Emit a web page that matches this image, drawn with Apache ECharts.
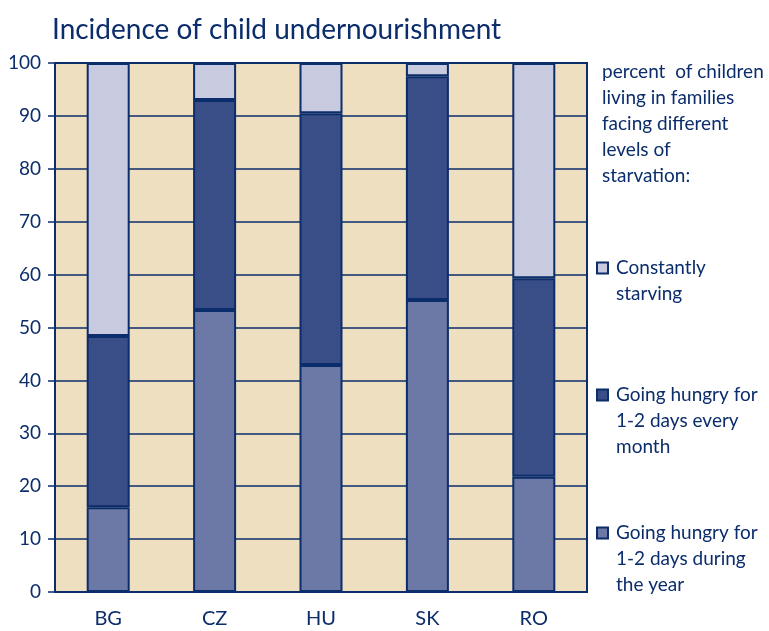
<!DOCTYPE html>
<html>
<head>
<meta charset="utf-8">
<script src="https://cdn.jsdelivr.net/npm/echarts@6/dist/echarts.min.js"></script>
<style>
  body { margin: 0; background: #fff; }
  #chart { width: 769px; height: 631px; }
</style>
</head>
<body>
<div id="chart"></div>
<script>
  // data
  var countries = ['BG', 'CZ', 'HU', 'SK', 'RO'];
  var duringYear = [16.0, 53.3, 42.9, 55.2, 21.8];
  var everyMonth = [32.4, 39.7, 47.6, 42.3, 37.5];
  var constantly = [51.6, 7.0, 9.5, 2.5, 40.7];
  var yTicks = [0, 10, 20, 30, 40, 50, 60, 70, 80, 90, 100];

  var navy = '#0b2d6b';
  var font = 'Lato';

  var chart = echarts.init(document.getElementById('chart'));

  // one legend per series so the box sits next to the first text line
  function legendBox(name, top, lines) {
    var pad = new Array(lines).join('\n');
    return {
      data: [name],
      orient: 'vertical',
      left: 596,
      top: top,
      icon: 'rect',
      itemWidth: 11,
      itemHeight: 11,
      itemGap: 0,
      padding: 0,
      selectedMode: false,
      formatter: function (n) { return pad + n; },
      textStyle: { color: navy, fontFamily: font, fontSize: 19, lineHeight: 26, padding: [0, 0, 0, 3] }
    };
  }

  chart.setOption({
    animation: false,
    title: [{
      text: 'Incidence of child undernourishment',
      left: 47,
      top: 11,
      textStyle: { color: navy, fontFamily: font, fontSize: 28, fontWeight: 'normal' }
    }, {
      text: 'percent  of children\nliving in families\nfacing different\nlevels of\nstarvation:',
      left: 602,
      top: 59,
      padding: 0,
      textStyle: { color: navy, fontFamily: font, fontSize: 19, fontWeight: 'normal', lineHeight: 26 }
    }],
    legend: [
      legendBox('Constantly\nstarving', 229, 2),
      legendBox('Going hungry for\n1-2 days every\nmonth', 330, 3),
      legendBox('Going hungry for\n1-2 days during\nthe year', 468, 3)
    ],
    grid: {
      left: 55,
      right: 182,
      top: 63,
      bottom: 39,
      show: true,
      backgroundColor: '#eedfc0',
      borderColor: navy,
      borderWidth: 2
    },
    xAxis: {
      type: 'category',
      data: countries,
      axisLine: { lineStyle: { color: navy, width: 2 } },
      axisTick: { length: 9, lineStyle: { color: navy, width: 1.5 } },
      axisLabel: { color: navy, fontFamily: font, fontSize: 20, margin: 17 }
    },
    yAxis: {
      type: 'value',
      min: 0,
      max: 100,
      interval: 10,
      axisLine: { show: true, lineStyle: { color: navy, width: 2 } },
      axisTick: { show: true, length: 7, lineStyle: { color: navy, width: 1.5 } },
      axisLabel: {
        color: navy, fontFamily: font, fontSize: 19, margin: 14,
        formatter: function (v) { return yTicks.indexOf(v) >= 0 ? String(v) : ''; }
      },
      splitLine: { lineStyle: { color: navy, width: 1.5 } }
    },
    series: [{
      name: 'Going hungry for\n1-2 days during\nthe year',
      type: 'bar',
      stack: 'all',
      barWidth: 43,
      data: duringYear,
      itemStyle: { color: '#6c78a6', borderColor: navy, borderWidth: 2 }
    }, {
      name: 'Going hungry for\n1-2 days every\nmonth',
      type: 'bar',
      stack: 'all',
      barWidth: 43,
      data: everyMonth,
      itemStyle: { color: '#394d86', borderColor: navy, borderWidth: 2 }
    }, {
      name: 'Constantly\nstarving',
      type: 'bar',
      stack: 'all',
      barWidth: 43,
      data: constantly,
      itemStyle: { color: '#c8cadf', borderColor: navy, borderWidth: 2 }
    }]
  });
</script>
</body>
</html>
